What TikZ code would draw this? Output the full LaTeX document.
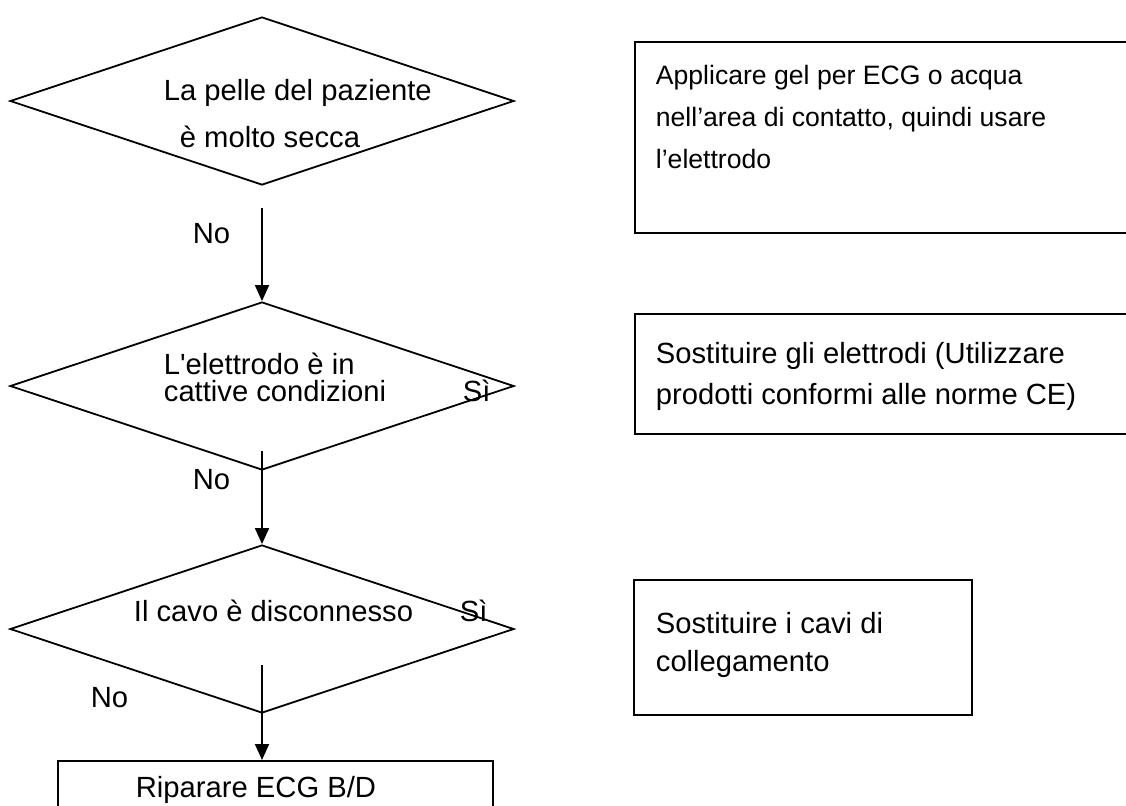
\documentclass[tikz,border=0pt]{standalone}
\usepackage{fontspec}
\setmainfont{Liberation Sans}
\usetikzlibrary{arrows.meta,positioning,shapes.geometric}

\begin{document}
\begin{tikzpicture}[x=0.5pt,y=-0.5pt,>={Triangle[length=8pt,width=7pt]},line width=0.9pt,
  every node/.style={font=\fontsize{14.6}{17}\selectfont,inner sep=0pt},
  cond/.style={diamond,draw,minimum width=252pt,minimum height=84pt},
  act/.style={rectangle,draw,anchor=north west},
  txt/.style={anchor=base west}]
\useasboundingbox (0,0) rectangle (1126,805);
% decisions
\node[cond] (skin) at (262,101) {};
\node[cond] (elec) at (262,386) {};
\node[cond] (cable) at (262,629) {};
\node[txt] (skinA) at (163,100) {La pelle del paziente};\node[txt] (skinB) at (179,147) {è molto secca};
\node[txt] (elecA) at (163,374) {L\textquotesingle elettrodo è in};\node[txt] (elecB) at (163,401) {cattive condizioni};
\node[txt] (cableA) at (133,621) {Il cavo è disconnesso};
\node[txt] (siE) at (462,401) {Sì};\node[txt] (siC) at (459,621) {Sì};
\node[txt] (no1) at (192,243) {No};\node[txt] (no2) at (192,489) {No};\node[txt] (no3) at (90,707) {No};
% actions
\node[act,minimum width=217.5pt,minimum height=30pt] (fix) at (57,760) {};
\node[txt] (fixA) at (135,797) {Riparare ECG B/D};
\node[act,minimum width=253pt,minimum height=95.5pt] (gel) at (634,41) {};
\node[txt,font=\fontsize{13.3}{16}\selectfont] (gelA) at (655,84) {Applicare gel per ECG o acqua};
\node[txt,font=\fontsize{13.3}{16}\selectfont] (gelB) at (655,126) {nell’area di contatto, quindi usare};
\node[txt,font=\fontsize{13.3}{16}\selectfont] (gelC) at (655,168) {l’elettrodo};
\node[act,minimum width=253pt,minimum height=60pt] (swap) at (634,313) {};
\node[txt] (swapA) at (655,363) {Sostituire gli elettrodi (Utilizzare};\node[txt] (swapB) at (655,404) {prodotti conformi alle norme CE)};
\node[act,minimum width=169pt,minimum height=67.5pt] (leads) at (633,579) {};
\node[txt] (leadsA) at (655,633) {Sostituire i cavi di};\node[txt] (leadsB) at (655,671) {collegamento};
% flow
\draw[->] ([yshift=-11pt]skin.south)--(elec.north);
\draw[->] ([yshift=10pt]elec.south)--(cable.north);
\draw[->] ([yshift=24.5pt]cable.south)--(cable.south |- fix.north);
\end{tikzpicture}
\end{document}
